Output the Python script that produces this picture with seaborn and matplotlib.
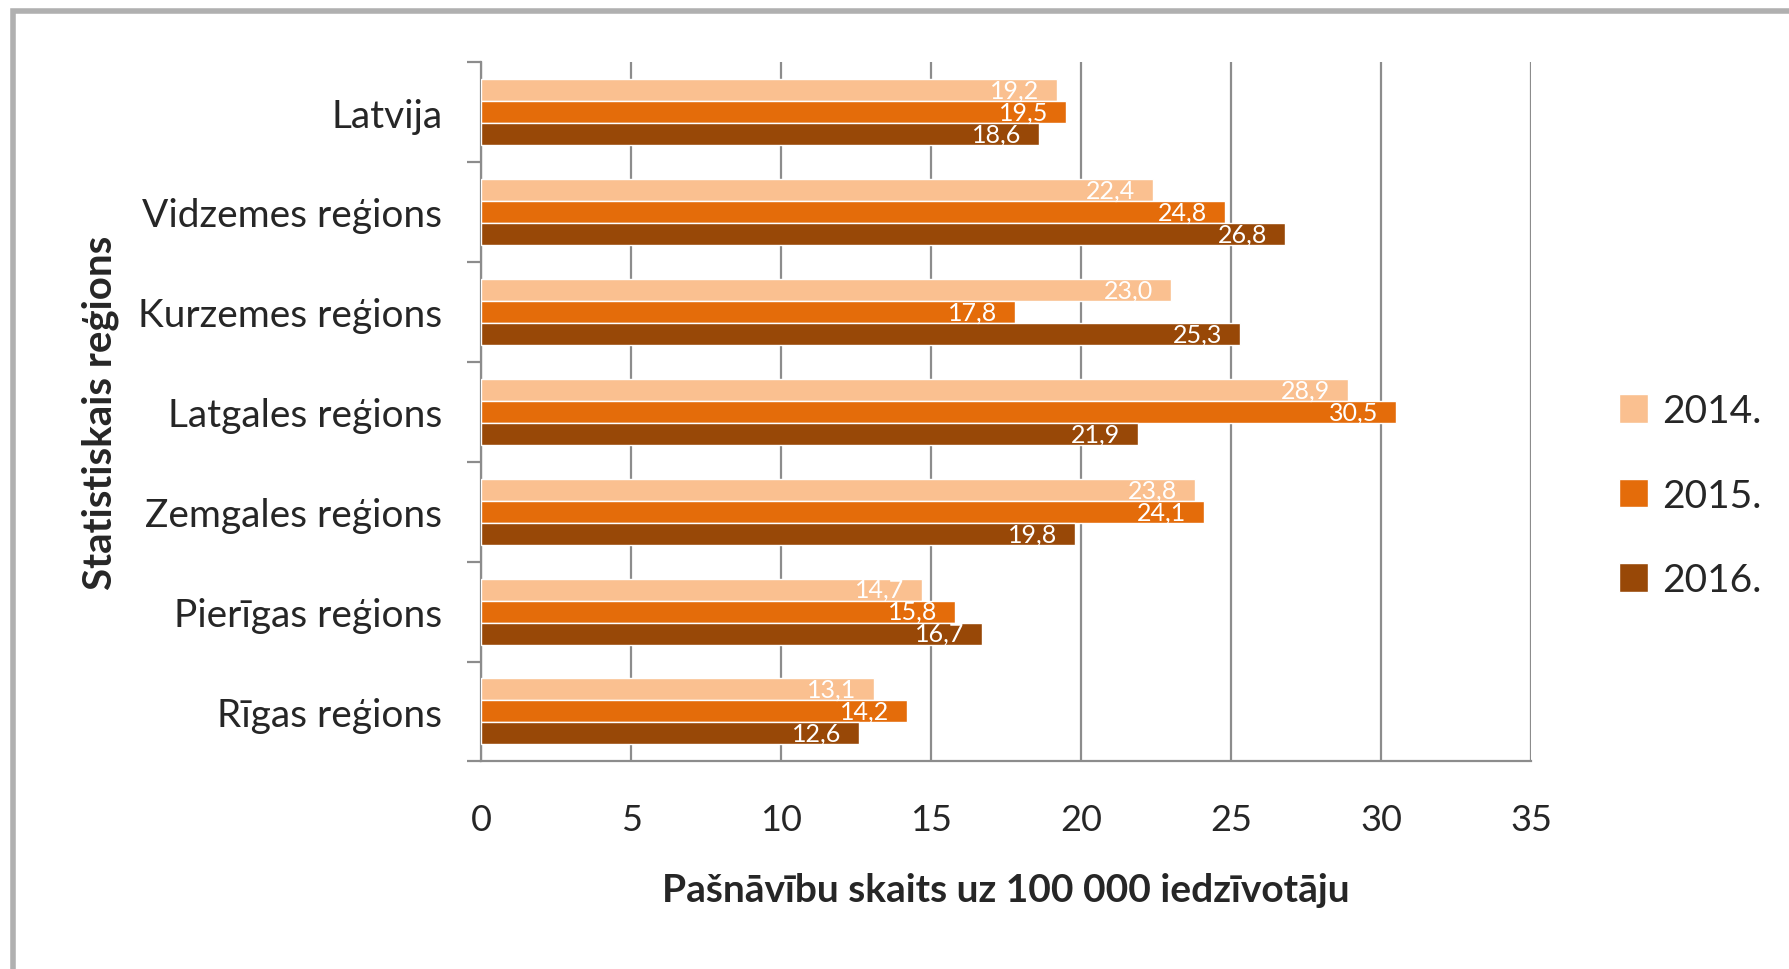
import matplotlib
matplotlib.use("Agg")
import matplotlib.pyplot as plt
import seaborn as sns
import pandas as pd
import numpy as np
from matplotlib.patches import Rectangle

regions = ["Latvija", "Vidzemes reģions", "Kurzemes reģions", "Latgales reģions",
           "Zemgales reģions", "Pierīgas reģions", "Rīgas reģions"]
years = ["2014.", "2015.", "2016."]
v2014 = [19.2, 22.4, 23.0, 28.9, 23.8, 14.7, 13.1]
v2015 = [19.5, 24.8, 17.8, 30.5, 24.1, 15.8, 14.2]
v2016 = [18.6, 26.8, 25.3, 21.9, 19.8, 16.7, 12.6]
colors = ["#FAC090", "#E46C0A", "#984807"]
xticks = [0, 5, 10, 15, 20, 25, 30, 35]

df = pd.DataFrame({
    "region": regions * 3,
    "year": [years[0]] * 7 + [years[1]] * 7 + [years[2]] * 7,
    "value": v2014 + v2015 + v2016,
})

sns.set_theme(style="white")
plt.rcParams["font.family"] = ["Lato", "DejaVu Sans"]

fig = plt.figure(figsize=(17.89, 9.70), dpi=100)
ax = fig.add_axes([0.269, 0.214, 0.587, 0.721])

sns.barplot(data=df, y="region", x="value", hue="year", order=regions,
            hue_order=years, palette=colors, orient="h", width=0.66,
            saturation=1, ax=ax, legend=True, zorder=3)

for container in ax.containers:
    for bar in container:
        w = bar.get_width()
        ax.text(w - 0.6, bar.get_y() + bar.get_height() / 2,
                f"{w:.1f}".replace(".", ","), color="white", fontsize=18,
                ha="right", va="center", zorder=5)

ax.set_xlim(0, 35)
ax.set_ylim(len(regions) - 0.5, -0.5)
ax.set_xticks(xticks)
ax.set_xticklabels([str(t) for t in xticks], fontsize=26)
ax.grid(axis="x", color="#8c8c8c", linewidth=1.6, zorder=0)
ax.set_axisbelow(True)
ax.tick_params(axis="x", length=12, width=1.6, color="#8c8c8c", pad=18, direction="out")
ax.tick_params(axis="y", which="major", length=0, labelsize=28, pad=28)
ax.set_yticks(np.arange(-0.5, len(regions), 1), minor=True)
ax.tick_params(axis="y", which="minor", length=10, width=1.6, color="#8c8c8c", left=True)
for s in ["top", "right"]:
    ax.spines[s].set_visible(False)
for s in ["left", "bottom"]:
    ax.spines[s].set_color("#8c8c8c")
    ax.spines[s].set_linewidth(1.6)

ax.set_xlabel("Pašnāvību skaits uz 100 000 iedzīvotāju", fontsize=28,
              fontweight="bold", labelpad=26)
ax.set_ylabel("Statistiskais reģions", fontsize=29, fontweight="bold")
ax.yaxis.set_label_coords(-0.345, 0.5)

leg = ax.legend(loc="center left", bbox_to_anchor=(1.05, 0.38), frameon=False,
                fontsize=28, handlelength=0.75, handleheight=0.75, handletextpad=0.35,
                labelspacing=1.25)

fig.patches.append(Rectangle((0.0075, -0.1), 1.2, 1.088, transform=fig.transFigure,
                             fill=False, edgecolor="#b0b0b0", linewidth=4))

fig.savefig("out.png", dpi=100)
